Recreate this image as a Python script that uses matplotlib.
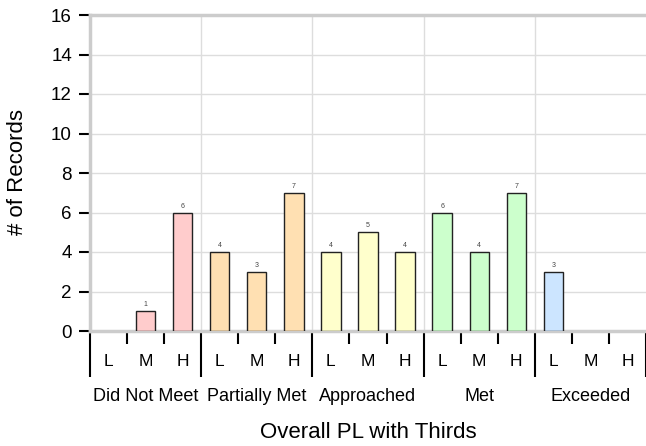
import numpy as np
import matplotlib
matplotlib.use("Agg")
import matplotlib.pyplot as plt

plt.rcParams['font.family'] = ['Liberation Sans', 'DejaVu Sans']

groups = ["Did Not Meet", "Partially Met", "Approached", "Met", "Exceeded"]
thirds = ["L", "M", "H"]
counts = [0, 1, 6, 4, 3, 7, 4, 5, 4, 6, 4, 7, 3, 0, 0]
group_colors = ["#ffcccc", "#ffe0b2", "#ffffcc", "#ccffcc", "#cce5ff"]

fig = plt.figure(figsize=(6.46, 4.46), dpi=100)
ax = fig.add_axes([90/646, 115/446, 556/646, 316/446])

x = np.arange(len(counts))
colors = [group_colors[i // 3] for i in range(len(counts))]
# skip the empty slots so no flat outline is drawn at zero
keep = [i for i in x if counts[i] > 0]
ax.bar([x[i] for i in keep], [counts[i] for i in keep], width=0.52,
       color=[colors[i] for i in keep], edgecolor="#222222", linewidth=1.0, zorder=3)
for i in keep:
    ax.text(x[i], counts[i] + 0.15, str(counts[i]), ha="center", va="bottom",
            fontsize=5, color="#444444")

ax.set_xlim(-0.5, 14.5)
ax.set_ylim(0, 16)
ax.set_yticks(np.arange(0, 17, 2))
ax.tick_params(axis="y", length=8, width=1.5, color="black", labelsize=13.5, pad=5)

bounds = [-0.5, 2.5, 5.5, 8.5, 11.5, 14.5]
minor = [b + k for b in bounds[:-1] for k in (1, 2)]
ax.set_xticks(bounds)
ax.set_xticks(minor, minor=True)
ax.set_xticklabels([])
ax.tick_params(axis="x", which="major", length=33, width=1.5, color="black")
ax.tick_params(axis="x", which="minor", length=9, width=1.5, color="black")

ax.grid(True, axis="y", color="#dddddd", linewidth=1, zorder=0)
for b in bounds[1:-1]:
    ax.axvline(b, color="#dddddd", linewidth=1, zorder=0)

for s in ["left", "top", "bottom"]:
    ax.spines[s].set_color("#cccccc")
    ax.spines[s].set_linewidth(2.5)
ax.spines["right"].set_visible(False)

trans = ax.get_xaxis_transform()
for xi in x:
    ax.text(xi, -0.098, thirds[xi % 3], transform=trans, ha="center", va="center", fontsize=12.5)
for gi, g in enumerate(groups):
    ax.text(3 * gi + 1, -0.206, g, transform=trans, ha="center", va="center", fontsize=13)

ax.text(7, -0.32, "Overall PL with Thirds", transform=trans, ha="center", va="center", fontsize=16)
fig.text(18/646, 0.5 + (446/2 - 172) / 446, "# of Records", rotation=90,
         ha="center", va="center", fontsize=16)

fig.savefig("out.png", dpi=100)
